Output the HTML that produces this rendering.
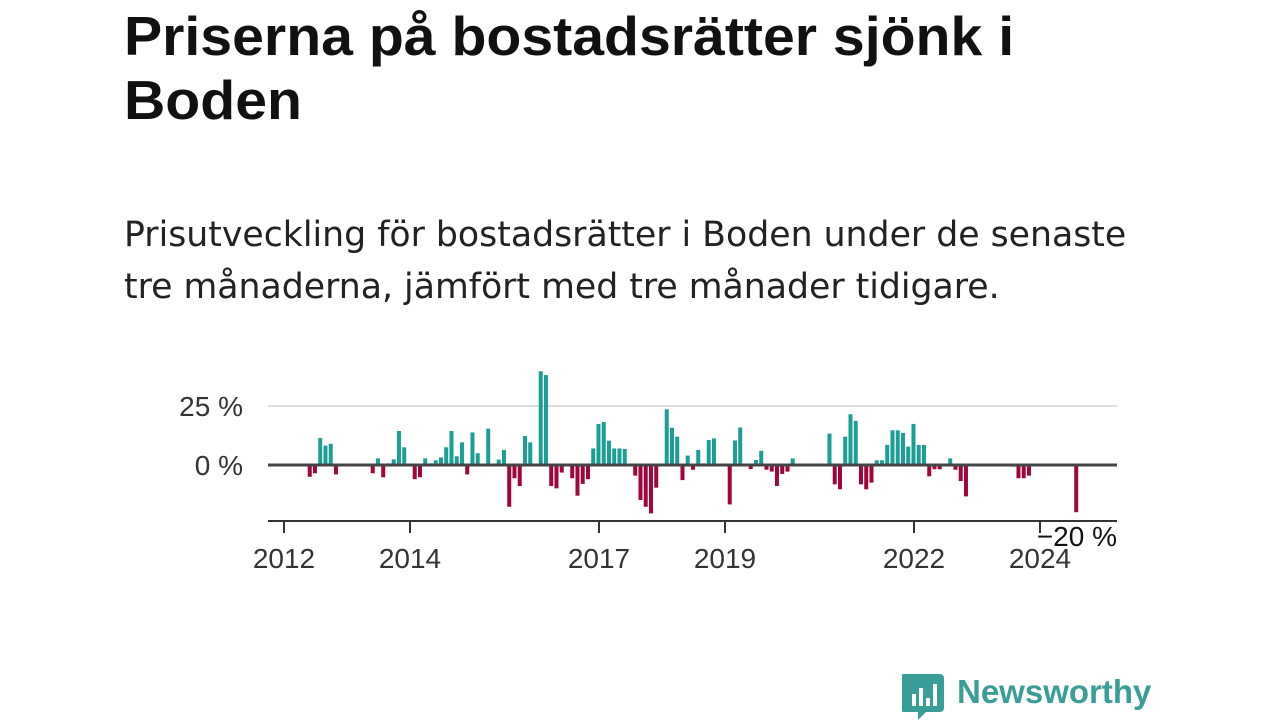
<!DOCTYPE html>
<html><head><meta charset="utf-8"><style>
body{margin:0;width:1280px;height:720px;background:#fff;overflow:hidden;font-family:"Liberation Sans",sans-serif;position:relative}
h1{position:absolute;left:124px;top:4px;margin:0;font-size:55px;line-height:64px;font-weight:bold;color:#111;width:1100px;transform:scaleX(1.04);transform-origin:0 0}
p{position:absolute;left:124px;top:209px;margin:0;font-family:"DejaVu Sans",sans-serif;font-size:34.7px;line-height:52px;color:#222;width:1150px}
#chart{position:absolute;left:0;top:0}
.logo{position:absolute;left:902px;top:670px}
</style></head><body>
<h1>Priserna på bostadsrätter sjönk i<br>Boden</h1>
<p>Prisutveckling för bostadsrätter i Boden under de senaste<br>tre månaderna, jämfört med tre månader tidigare.</p>
<svg id="chart" width="1280" height="720"></svg>
<div class="logo">
<svg width="260" height="50">
<path d="M2 4 h36 a4 4 0 0 1 4 4 v30 a4 4 0 0 1 -4 4 h-14 l-8 8 v-8 h-14 a4 4 0 0 1 -4 -4 v-30 a4 4 0 0 1 4 -4z" fill="#3a9e98"/>
<rect x="10" y="24" width="4" height="12" fill="#fff"/><rect x="17" y="18" width="4" height="18" fill="#fff"/><rect x="24" y="28" width="4" height="8" fill="#fff"/><rect x="31" y="14" width="4" height="22" fill="#fff"/>
<text x="55" y="33" font-family="Liberation Sans" font-weight="bold" font-size="33" fill="#3a9e98">Newsworthy</text>
</svg></div>
<script>
const startMonth = [2012, 0];
const values = {5:-5,6:-3.5,7:11.4,8:8.2,9:9,10:-4,17:-3.5,18:2.8,19:-5.2,20:0.7,21:2.4,22:14.4,23:7.5,25:-6,26:-5.2,27:2.8,28:0.7,29:2,30:3.2,31:7.5,32:14.4,33:3.7,34:9.6,35:-4,36:13.8,37:5,39:15.4,41:2.3,42:6.4,43:-17.7,44:-5.6,45:-8.9,46:12.3,47:9.6,49:39.7,50:38.1,51:-8.9,52:-9.9,53:-3.2,55:-5.6,56:-13,57:-8,58:-6,59:7,60:17.4,61:18.2,62:10.3,63:7,64:7,65:6.8,67:-4.5,68:-14.8,69:-17.7,70:-20.5,71:-9.6,73:23.6,74:15.8,75:12,76:-6.4,77:4,78:-2,79:6.4,80:0.7,81:10.6,82:11.3,85:-16.7,86:10.4,87:15.9,89:-1.7,90:2.1,91:6,92:-2,93:-2.8,94:-8.9,95:-3.8,96:-2.8,97:2.8,104:13.3,105:-8.2,106:-10.3,107:12,108:21.5,109:18.7,110:-8.2,111:-10.3,112:-7.5,113:2,114:2,115:8.5,116:14.7,117:14.7,118:13.6,119:7.8,120:17.4,121:8.5,122:8.5,123:-4.8,124:-1.8,125:-1.8,127:2.8,128:-2,129:-6.8,130:-13.3,138:0.5,139:-0.7,140:-5.6,141:-5.6,142:-4.5,143:0.5,151:-20};
const yTicks = [25, 0];
const yTickLabels = ["25 %", "0 %"];
const xYears = [2012, 2014, 2017, 2019, 2022, 2024];
const NS="http://www.w3.org/2000/svg";
const svg=document.getElementById('chart');
const x=m=>284+5.25*(m-0.1);
const y=v=>465-v*2.36;
function mk(t,a){const e=document.createElementNS(NS,t);for(const k in a)e.setAttribute(k,a[k]);svg.appendChild(e);return e;}
yTicks.forEach((t,i)=>{
 if(t!==0){const g=mk('line',{x1:268,x2:1117,y1:y(t),y2:y(t),stroke:'#ddd','stroke-width':2});
 
 }
 const l=mk('text',{x:243,y:y(t)+10,'text-anchor':'end','font-size':28,fill:'#333','font-family':'Liberation Sans'});
 l.textContent=yTickLabels[i];
 
 
});
Object.keys(values).forEach(k=>{
 const m=+k,v=values[k];
 const r=mk('rect',{x:x(m)-2,width:4,y:Math.min(y(v),y(0)),height:Math.abs(y(v)-y(0)),fill:v>=0?'#1a9e96':'#a0063d'});
 
 
});
const z=mk('line',{x1:268,x2:1117,y1:465,y2:465,stroke:'#444','stroke-width':3});


const ax=mk('line',{x1:268,x2:1117,y1:521,y2:521,stroke:'#333','stroke-width':2});


xYears.forEach(yr=>{
 const m=(yr-startMonth[0])*12, px=284+5.25*m;
 const t=mk('line',{x1:px,x2:px,y1:521,y2:533,stroke:'#333','stroke-width':2});
 
 
 const l=mk('text',{x:px,y:568,'text-anchor':'middle','font-size':28,fill:'#333','font-family':'Liberation Sans'});
 l.textContent=yr;
 
 
});
const lab=mk('text',{x:1117,y:546,'text-anchor':'end','font-size':28,fill:'#111',stroke:'#fff','stroke-width':5,'paint-order':'stroke','font-family':'Liberation Sans'});
lab.textContent='\u221220 %';


</script>
</body></html>
